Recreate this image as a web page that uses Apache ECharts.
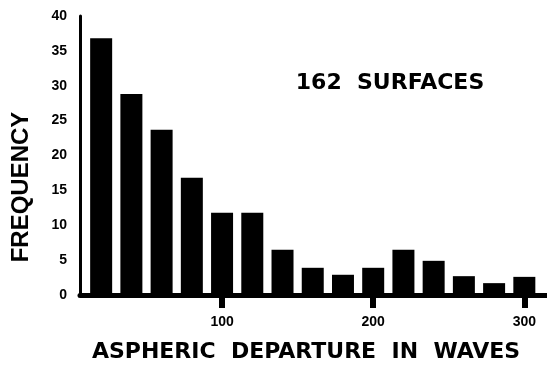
<!DOCTYPE html>
<html>
<head>
<meta charset="utf-8">
<script src="https://cdn.jsdelivr.net/npm/echarts@6/dist/echarts.min.js"></script>
<style>
  html, body { margin: 0; padding: 0; background: #fff; }
  #main { width: 547px; height: 367px; }
</style>
</head>
<body>
<div id="main"></div>
<script>
// bin centres (waves) and counts
const binCenters = [20, 40, 60, 80, 100, 120, 140, 160, 180, 200, 220, 240, 260, 280, 300]
const frequency = [36.8, 28.8, 23.7, 16.8, 11.8, 11.8, 6.5, 3.9, 2.9, 3.9, 6.5, 4.9, 2.7, 1.7, 2.6]
const xTickValues = [100, 200, 300]
const yTickStep = 5

const chartDom = document.getElementById('main')
const myChart = echarts.init(chartDom)

const option = {
  backgroundColor: '#fff',
  animation: false,
  grid: {
    left: 80,
    right: 0,
    top: 16,
    bottom: 72
  },
  xAxis: {
    type: 'value',
    min: 6,
    max: 315,
    splitLine: { show: false },
    axisLine: {
      show: true,
      lineStyle: { color: '#000', width: 5 }
    },
    axisTick: {
      show: true,
      customValues: xTickValues,
      length: 13,
      lineStyle: { color: '#000', width: 6 }
    },
    axisLabel: {
      customValues: xTickValues,
      margin: 20,
      color: '#000',
      fontFamily: 'Liberation Sans',
      fontWeight: 'bold',
      fontSize: 14
    }
  },
  yAxis: {
    type: 'value',
    min: 0,
    max: 40,
    interval: yTickStep,
    splitLine: { show: false },
    axisLine: {
      show: true,
      lineStyle: { color: '#000', width: 3 }
    },
    axisTick: { show: false },
    axisLabel: {
      margin: 13,
      color: '#000',
      fontFamily: 'Liberation Sans',
      fontWeight: 'bold',
      fontSize: 14
    }
  },
  series: [
    {
      type: 'bar',
      barWidth: 22,
      itemStyle: { color: '#000' },
      data: binCenters.map((x, i) => [x, frequency[i]])
    }
  ],
  graphic: [
    {
      type: 'text',
      x: 21,
      y: 187,
      rotation: Math.PI / 2,
      style: {
        text: 'FREQUENCY',
        fill: '#000',
        font: 'bold 24px "Liberation Sans"',
        textAlign: 'center',
        textVerticalAlign: 'middle'
      }
    },
    {
      type: 'text',
      x: 306,
      y: 352,
      style: {
        text: 'ASPHERIC  DEPARTURE  IN  WAVES',
        fill: '#000',
        font: 'bold 22px "DejaVu Sans"',
        textAlign: 'center',
        textVerticalAlign: 'middle'
      }
    },
    {
      type: 'text',
      x: 390,
      y: 83,
      style: {
        text: '162  SURFACES',
        fill: '#000',
        font: 'bold 22px "DejaVu Sans"',
        textAlign: 'center',
        textVerticalAlign: 'middle'
      }
    }
  ]
}

myChart.setOption(option)
</script>
</body>
</html>
